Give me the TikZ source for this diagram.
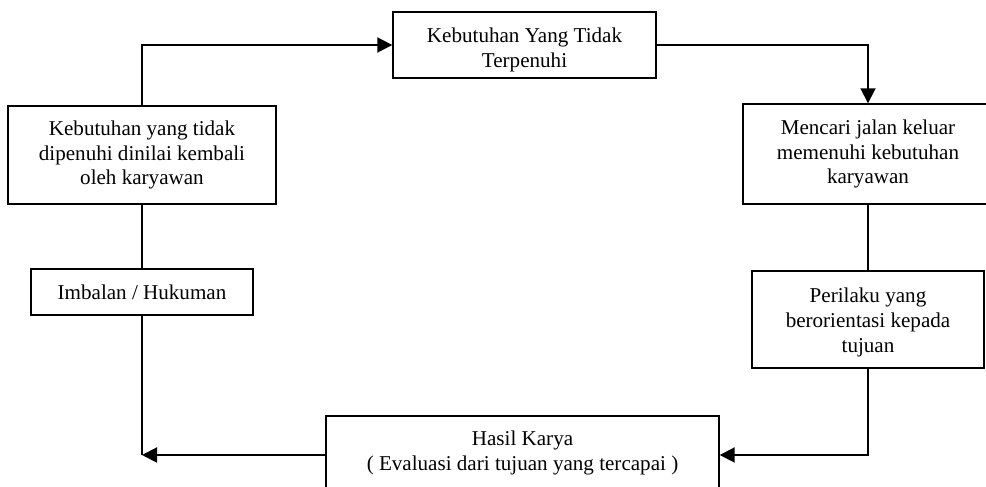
\documentclass[tikz,border=0pt]{standalone}
\usepackage{fontspec}
\setmainfont{Liberation Serif}
\usepackage{tikz}
\usetikzlibrary{arrows.meta, positioning}
\tikzset{
	block/.style={draw, line width=0.8pt},
	flow/.style={-{Triangle[length=0.3cm, width=0.3cm]}, line width=1.1pt},
	link/.style={line width=1.1pt}
}

\begin{document}
\begin{tikzpicture}[font=\fontsize{12}{14.2}\selectfont]
		\useasboundingbox (0,0) rectangle (19.72,-9.74);
		
		\node[block, minimum width=5.26cm, minimum height=1.32cm] (need) at (10.49,-0.90) {};
		\node[align=center] at (10.49,-1.00) {Kebutuhan Yang Tidak \\ Terpenuhi};
		
		\node[block, minimum width=5.0cm, minimum height=2.0cm] (solution) at (17.36,-3.08) {};
		\node[align=center] at (solution) {Mencari jalan keluar \\ memenuhi kebutuhan \\ karyawan};
		
		\node[block, minimum width=4.64cm, minimum height=1.94cm] (behavior) at (17.36,-6.39) {};
		\node[align=center] at (17.36,-6.44) {Perilaku yang \\ berorientasi kepada \\ tujuan};
		
		\node[block, minimum width=7.86cm, minimum height=1.56cm] (result) at (10.45,-9.10) {};
		\node[align=center] at (10.45,-9.06) {Hasil Karya \\ ( Evaluasi dari tujuan yang tercapai )};
		
		\node[block, minimum width=5.36cm, minimum height=1.96cm] (review) at (2.84,-3.10) {};
		\node[align=center] at (review) {Kebutuhan yang tidak \\ dipenuhi dinilai kembali \\ oleh karyawan};
		
		\node[block, minimum width=4.44cm, minimum height=0.92cm] (reward) at (2.84,-5.84) {};
		\node[align=center] at (reward) {Imbalan / Hukuman};
		
		\coordinate (corner) at (review.south |- result.west);
		
		\draw[flow] (review.north)   |- (need.west);
		\draw[flow] (need.east)      -| (solution.north);
		\draw[link] (solution.south) -- (behavior.north);
		\draw[flow] (behavior.south) |- (result.east);
		\draw[flow] (result.west)    -- (corner);
		\draw[link] (reward.south)   -- (corner);
		\draw[link] (review.south)   -- (reward.north);
	\end{tikzpicture}
\end{document}
